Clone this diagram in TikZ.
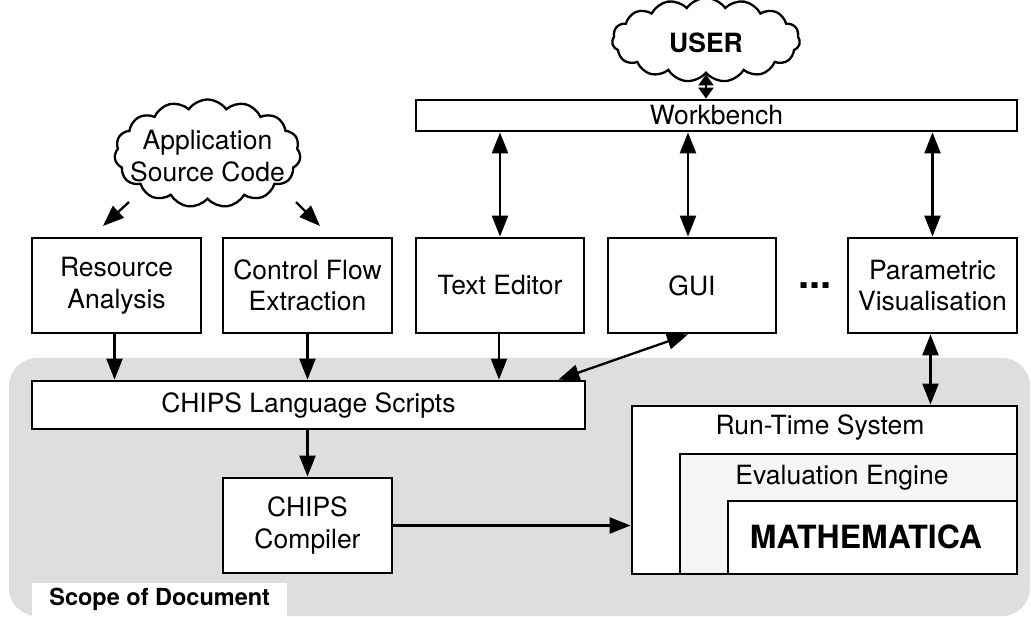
\documentclass[tikz,border=0pt]{standalone}
\usepackage{fontspec}
\setmainfont{TeX Gyre Heros}
\usetikzlibrary{arrows.meta,shapes.symbols}
\definecolor{scopegray}{HTML}{DEDEDE}
\definecolor{evalfill}{HTML}{F6F6F6}
\newcommand\mainfs{\fontsize{26.5}{31.5}\selectfont}
\newcommand\scopefs{\fontsize{23.5}{28}\selectfont\bfseries}
\newcommand\mathfs{\fontsize{32}{36}\selectfont\bfseries}
\newcommand\dotsfs{\fontsize{40}{40}\selectfont\bfseries}
\begin{document}
\begin{tikzpicture}[x=1pt,y=-1pt,
  box/.style={draw, line width=2.8pt, fill=white, align=center, font=\mainfs, inner sep=0pt},
  plain/.style={align=center, font=\mainfs, inner sep=0pt},
  cloudbox/.style={cloud, cloud puffs=15, cloud puff arc=110, cloud ignores aspect, draw, line width=2.3pt, fill=white, inner sep=0pt},
  arr/.style={line width=2.3pt, -{Triangle[length=21pt,width=16pt]}},
  dbl/.style={line width=2.3pt, {Triangle[length=21pt,width=16pt]}-{Triangle[length=21pt,width=16pt]}},
  dbls/.style={line width=2.3pt, {Triangle[length=11pt,width=15pt]}-{Triangle[length=11pt,width=15pt]}}
  ]
\useasboundingbox (0,0) rectangle (1031,617);
% scope region
\fill[scopegray, rounded corners=28pt] (9,358) rectangle (1030,616);
\node[fill=white, font=\scopefs, anchor=south west, minimum width=255pt, minimum height=34pt, inner sep=0pt] (scope) at (32,617) {Scope of Document};

% clouds
\node[cloudbox, minimum width=186pt, minimum height=108pt] (app) at (207.5,153.5) {};
\node[plain] (apptxt) at (207.5,156) {Application\\Source Code};
\node[cloudbox, minimum width=188pt, minimum height=84pt] (user) at (706,40) {};
\node[plain, font=\mainfs\bfseries] (usertxt) at (706,43) {USER};

% top row
\node[box, minimum width=601pt, minimum height=31pt] (wb) at (716.5,115.5) {Workbench};
\node[box, minimum width=169pt, minimum height=95pt] (res) at (116.5,285.5) {Resource\\Analysis};
\node[box, minimum width=169pt, minimum height=95pt] (cfe) at (307.5,285.5) {Control Flow\\Extraction};
\node[box, minimum width=168pt, minimum height=95pt] (ted) at (500,285.5) {Text Editor};
\node[box, minimum width=168pt, minimum height=95pt] (gui) at (692,285.5) {GUI};
\node[plain, font=\dotsfs] (dots) at (815,286) {...};
\node[box, minimum width=169pt, minimum height=95pt] (par) at (932.5,285.5) {Parametric\\Visualisation};

% scope contents
\node[box, minimum width=553pt, minimum height=48pt] (cls) at (308.5,405) {CHIPS Language Scripts};
\node[box, minimum width=169pt, minimum height=95pt] (cc) at (307.5,525.5) {CHIPS\\Compiler};
\node[box, minimum width=385pt, minimum height=168pt] (rts) at (824.5,490) {};
\node[plain] (rtstxt) at (820,427) {Run-Time System};
\node[box, fill=evalfill, minimum width=337pt, minimum height=120pt] (eve) at (848.5,514) {};
\node[plain] (evetxt) at (842,478) {Evaluation Engine};
\node[box, minimum width=289pt, minimum height=73pt] (mat) at (872.5,537.5) {};
\node[plain, font=\mathfs] (mattxt) at (866,537) {MATHEMATICA};

% connectors
\coordinate (a1) at (129,202);
\coordinate (a2) at (103,226);
\coordinate (b1) at (296,202);
\coordinate (b2) at (320,226);
\draw[arr] (a1) -- (a2);
\draw[arr] (b1) -- (b2);
\draw[dbls] (user.south) -- (user.south |- wb.north);
\draw[dbl] (ted.north |- wb.south) -- (ted.north);
\draw[dbl] ([xshift=-4pt]gui.north |- wb.south) -- ([xshift=-4pt]gui.north);
\draw[dbl] (par.north |- wb.south) -- (par.north);
\draw[arr] ([xshift=-2pt]res.south) -- ([xshift=-2pt]res.south |- cls.north);
\draw[arr] (cfe.south) -- (cfe.south |- cls.north);
\draw[arr] ([xshift=-1pt]ted.south) -- ([xshift=-1pt]ted.south |- cls.north);
\draw[dbl] ([xshift=-4pt]gui.south) -- ([xshift=-28pt]cls.north east);
\draw[dbl] ([xshift=-2pt]par.south) -- ([xshift=-2pt]par.south |- rts.north);
\draw[arr] (cc.north |- cls.south) -- (cc.north);
\draw[arr] (cc.east) -- (cc.east -| rts.west);
\end{tikzpicture}
\end{document}
